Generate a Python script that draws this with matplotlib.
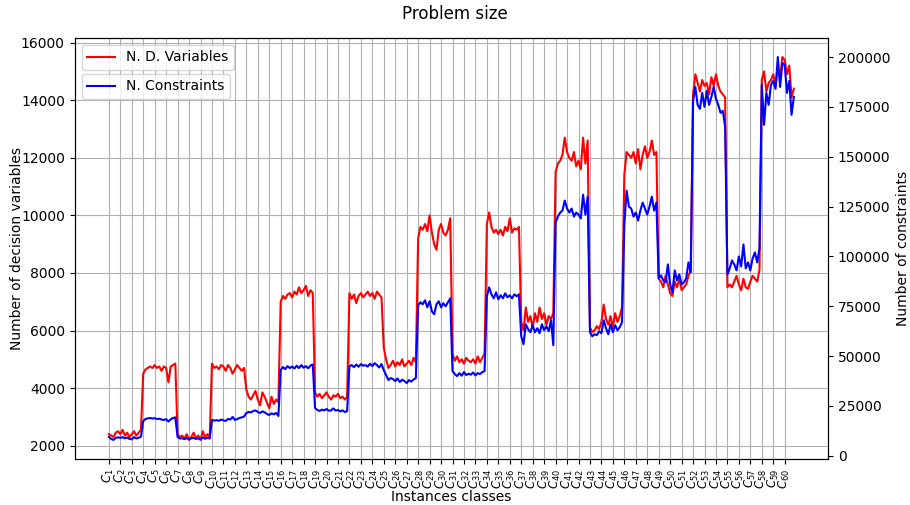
import matplotlib
matplotlib.use("Agg")
import matplotlib.pyplot as plt
import numpy as np

# 60 instance classes, 5 instances per class; one row = 3 classes
n_vars = [
    2400, 2350, 2300, 2450, 2500, 2400, 2550, 2350, 2450, 2300, 2400, 2500, 2350, 2450, 2550,
    4500, 4650, 4700, 4750, 4700, 4800, 4700, 4750, 4600, 4750, 4700, 4200, 4750, 4800, 4850,
    2400, 2300, 2350, 2250, 2400, 2200, 2300, 2450, 2250, 2350, 2200, 2500, 2300, 2400, 2250,
    4850, 4700, 4750, 4650, 4800, 4750, 4600, 4800, 4700, 4500, 4650, 4800, 4700, 4600, 4700,
    3950, 3700, 3600, 3750, 3900, 3600, 3400, 3850, 3700, 3500, 3300, 3700, 3450, 3600, 3500,
    7000, 7200, 7100, 7250, 7300, 7150, 7350, 7250, 7500, 7300, 7400, 7550, 7200, 7400, 7300,
    3850, 3700, 3800, 3650, 3750, 3850, 3700, 3600, 3750, 3700, 3800, 3650, 3700, 3600, 3700,
    7300, 7100, 7250, 6950, 7200, 7300, 7150, 7250, 7350, 7200, 7300, 7100, 7350, 7250, 7150,
    5400, 5000, 4700, 4800, 4950, 4750, 4900, 4800, 5000, 4750, 4850, 4950, 4800, 5050, 4900,
    9200, 9600, 9500, 9700, 9450, 10000, 9400, 9000, 8800, 9500, 9700, 9400, 9300, 9500, 9900,
    5200, 4950, 5100, 4900, 5000, 4850, 5050, 4950, 4900, 5000, 4850, 5100, 4900, 5050, 5200,
    9700, 10100, 9600, 9400, 9500, 9350, 9500, 9300, 9600, 9450, 9900, 9400, 9550, 9500, 9600,
    6300, 6000, 6800, 6300, 6500, 6100, 6600, 6300, 6800, 6400, 6600, 6200, 6500, 6400, 6600,
    11500, 11800, 11900, 12100, 12700, 12200, 12000, 11900, 12200, 11700, 11900, 11600, 12700, 11800, 12600,
    6100, 5950, 6000, 6150, 6050, 6300, 6900, 6400, 6200, 6500, 6100, 6600, 6300, 6500, 6800,
    11400, 12200, 12100, 12000, 12200, 11800, 12300, 11600, 12100, 12400, 12000, 12200, 12600, 12100, 12200,
    7800, 7700, 7500, 7900, 7600, 7300, 7200, 7700, 7500, 7800, 7400, 7500, 7600, 7900, 8100,
    14200, 14900, 14600, 14300, 14700, 14500, 14600, 14200, 14800, 14500, 14900, 14500, 14300, 14200, 14100,
    7500, 7600, 7500, 7700, 7900, 7600, 7400, 7800, 7500, 7450, 7700, 7900, 7800, 7700, 8100,
    14700, 15000, 14300, 14600, 14700, 14900, 14500, 15100, 14800, 15500, 15400, 14900, 15200, 14100, 14400,
]

n_cons = [
    9500, 8500, 8000, 9000, 9300, 9000, 9400, 8800, 9200, 8500, 8300, 9400, 8700, 9100, 9600,
    17500, 18500, 18800, 19000, 18700, 18900, 18500, 18600, 18200, 18000, 18400, 17200, 18300, 19000, 19300,
    9500, 8700, 8800, 8400, 8900, 8300, 8800, 9000, 8500, 8700, 8200, 9200, 8600, 9000, 8800,
    18000, 17700, 17900, 17600, 18200, 17800, 17500, 18500, 18200, 19500, 18000, 18400, 19000, 19300, 19700,
    21500, 22000, 21800, 22500, 22800, 22000, 21500, 22300, 21800, 21000, 20500, 21300, 20800, 21500, 20000,
    43000, 44500, 43500, 45000, 44000, 44800, 43800, 45200, 44000, 45500, 44200, 45000, 43900, 45300, 45800,
    24000, 23000, 22500, 23200, 22800, 23500, 22600, 22800, 23800, 22700, 23000, 22300, 22800, 22000, 22400,
    45000, 45500, 44500, 45800, 44700, 46000, 45200, 45500, 44800, 46200, 45000, 46500, 45500, 44300, 46000,
    43000, 40500, 38000, 39000, 38500, 37500, 38800, 37000, 38200, 37500, 36500, 38000, 37200, 38300, 39000,
    75500, 77000, 76000, 78000, 74500, 77500, 72500, 71000, 76000, 77500, 74500, 76500, 75000, 77000, 79000,
    42500, 41000, 40000, 41500, 40200, 42000, 40500, 41200, 40700, 41800, 40300, 41500, 41000, 42000, 42500,
    80000, 84500, 81000, 79000, 82000, 78500, 80500, 79000, 81500, 79500, 80500, 79000, 81000, 80000, 81000,
    60000, 56000, 66000, 63500, 62000, 65500, 62000, 64000, 61500, 66000, 63000, 65000, 62500, 68000, 55500,
    117000, 120000, 122000, 123000, 128000, 124000, 122000, 124000, 120000, 122000, 121000, 119000, 131000, 121000, 130000,
    62000, 60000, 61000, 60500, 62500, 61500, 68000, 64000, 61000, 66000, 62000, 65500, 63000, 64500, 67000,
    116000, 133000, 125000, 124000, 120000, 122000, 118000, 123000, 127000, 124000, 121000, 125000, 130000, 123000, 127000,
    89000, 90500, 88000, 87000, 96000, 86000, 82000, 93000, 88000, 91000, 86000, 87000, 89000, 97000, 92000,
    178000, 185000, 176000, 174000, 182000, 175000, 183000, 176000, 180000, 185000, 179000, 176000, 172000, 173000, 165000,
    91000, 94000, 98000, 96000, 93000, 100000, 95000, 106000, 94000, 97000, 93000, 99000, 102000, 97000, 104000,
    186000, 166000, 182000, 176000, 186000, 188000, 184000, 200000, 185000, 197000, 196000, 182000, 188000, 171000, 180000,
]

per_class = 5
classes = [f"$C_{{{i}}}$" for i in range(1, 61)]

x = np.arange(len(n_vars))

fig, ax = plt.subplots(figsize=(9.1, 5.05), dpi=100)
fig.subplots_adjust(left=0.082, right=0.91, bottom=0.091, top=0.925)

ax.plot(x, n_vars, color="red", lw=1.5, label="N. D. Variables")
ax.set_ylabel("Number of decision variables", labelpad=-2)
ax.set_xlabel("Instances classes", labelpad=1)
ax.set_xticks(np.arange(len(classes)) * per_class)
ax.set_xticklabels(classes, rotation=90, fontsize=8.5)
ax.grid(True)
ax.legend(loc="upper left")

ax2 = ax.twinx()
ax2.plot(x, n_cons, color="blue", lw=1.5, label="N. Constraints")
ax2.set_ylabel("Number of constraints")
ax2.legend(loc="upper left", bbox_to_anchor=(0, 0.931))

fig.suptitle("Problem size", y=0.99)
fig.savefig("out.png")
